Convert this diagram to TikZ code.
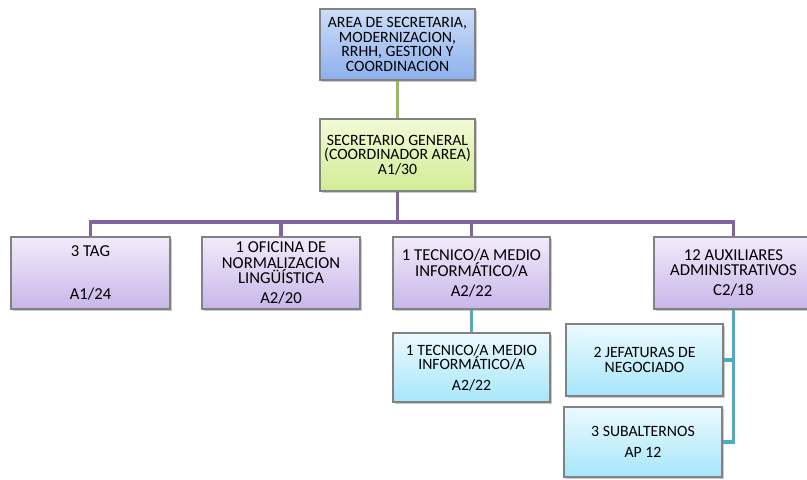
\documentclass[tikz,border=0pt]{standalone}
\usepackage{fontspec}
\setmainfont{Carlito}
\usetikzlibrary{shadows}
\definecolor{bordergray}{RGB}{130,130,130}
\definecolor{bluetop}{RGB}{205,220,248}
\definecolor{bluebot}{RGB}{140,176,236}
\definecolor{greentop}{RGB}{242,251,214}
\definecolor{greenbot}{RGB}{208,236,148}
\definecolor{purptop}{RGB}{242,235,250}
\definecolor{purpbot}{RGB}{200,182,234}
\definecolor{cyantop}{RGB}{236,250,255}
\definecolor{cyanbot}{RGB}{166,230,250}
\definecolor{lgreen}{RGB}{155,187,89}
\definecolor{lpurple}{RGB}{128,100,162}
\definecolor{lcyan}{RGB}{75,172,198}
\tikzset{
  orgbox/.style={draw=bordergray, line width=0.8pt, rectangle, inner sep=0pt,
    align=center, font=\fontsize{11.8}{10.9}\selectfont,
    drop shadow={shadow xshift=1.5pt, shadow yshift=-1.5pt, opacity=0.35, fill=black!60}},
  bigtext/.style={font=\fontsize{12.5}{11.6}\selectfont},
  bluebox/.style={orgbox, top color=bluetop, bottom color=bluebot},
  greenbox/.style={orgbox, top color=greentop, bottom color=greenbot},
  purplebox/.style={orgbox, bigtext, top color=purptop, bottom color=purpbot},
  cyanbox/.style={orgbox, top color=cyantop, bottom color=cyanbot},
  gline/.style={draw=lgreen, line width=2.8pt},
  pline/.style={draw=lpurple, line width=2.8pt},
  cline/.style={draw=lcyan, line width=2.8pt},
}
\begin{document}
\begin{tikzpicture}[x=0.75pt,y=-0.75pt]
\useasboundingbox[fill=white] (0,0) rectangle (807,479);
\coordinate (bus) at (0,222);
\node[bluebox, minimum width=116.25pt, minimum height=53.25pt] (area) at (397.5,44.5)
  {AREA DE SECRETARIA,\\MODERNIZACION,\\RRHH, GESTION Y\\COORDINACION};
\node[greenbox, minimum width=116.25pt, minimum height=54pt] (sec) at (397.5,155)
  {SECRETARIO GENERAL\\(COORDINADOR AREA)\\A1/30};
\node[purplebox, minimum width=119.25pt, minimum height=54pt] (tag) at (90.5,273)
  {3 TAG\\[21pt]A1/24};
\node[purplebox, minimum width=118.5pt, minimum height=54pt] (ofi) at (281,273)
  {1 OFICINA DE\\NORMALIZACION\\LINGÜÍSTICA\\[3.4pt]A2/20};
\node[purplebox, minimum width=117.75pt, minimum height=54pt] (tec) at (471.5,273)
  {1 TECNICO/A MEDIO\\INFORMÁTICO/A\\[3.4pt]A2/22};
\node[purplebox, minimum width=119.25pt, minimum height=54pt] (aux) at (733.5,273)
  {12 AUXILIARES\\ADMINISTRATIVOS\\[3.4pt]C2/18};
\node[cyanbox, minimum width=117.75pt, minimum height=51.75pt] (tec2) at (471.5,367.5)
  {1 TECNICO/A MEDIO\\INFORMÁTICO/A\\[4.5pt]A2/22};
\node[cyanbox, minimum width=117.75pt, minimum height=54pt] (jef) at (644.5,360)
  {2 JEFATURAS DE\\NEGOCIADO};
\node[cyanbox, minimum width=118.5pt, minimum height=52.5pt] (sub) at (643,442)
  {3 SUBALTERNOS\\[5pt]AP 12};
\draw[gline] (area.south) -- (sec.north);
\draw[pline] (sec.south) -- (sec.south |- bus);
\draw[pline] (tag.north) -- (tag.north |- bus) -- (aux.north |- bus) -- (aux.north);
\draw[pline] (ofi.north) -- (ofi.north |- bus);
\draw[pline] (tec.north) -- (tec.north |- bus);
\draw[cline] (tec.south) -- (tec2.north);
\draw[cline] (aux.south) -- (aux.south |- sub.east) -- (sub.east);
\draw[cline] (jef.east) -- (jef.east -| aux.south);
\end{tikzpicture}
\end{document}
